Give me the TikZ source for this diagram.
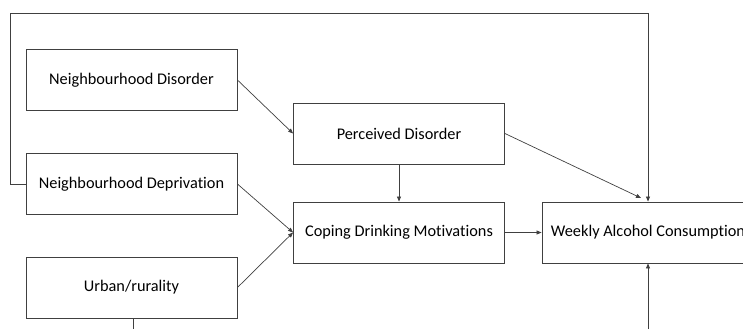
\documentclass[tikz,border=0pt]{standalone}
\usepackage{fontspec}
\setmainfont{Carlito}[Ligatures={NoCommon}]
\usetikzlibrary{arrows.meta}
\definecolor{linec}{HTML}{404040}
\tikzset{
  box/.style={draw=linec, line width=0.9pt, fill=white, minimum width=211pt, minimum height=61pt, inner sep=0pt, font=\fontsize{16.3}{19}\selectfont, text=black},
  conn/.style={draw=linec, line width=0.7pt, -{Triangle[length=5pt,width=4pt]}},
  plain/.style={draw=linec, line width=0.9pt}
}
\begin{document}
\begin{tikzpicture}[x=1pt,y=-1pt]
\useasboundingbox (0,0) rectangle (743,329);
\clip (0,0) rectangle (743,329);
\node[box] (nd) at (131.5,80) {Neighbourhood Disorder};
\node[box] (ndep) at (131.5,184) {Neighbourhood Deprivation};
\node[box] (ur) at (131.5,287.5) {Urban/rurality};
\node[box] (pd) at (399,133.5) {Perceived Disorder};
\node[box] (cd) at (399,232.5) {Coping Drinking Motivations};
\node[box, minimum width=212pt] (wa) at (648,232.5) {Weekly Alcohol Consumption};
\coordinate (tl) at (10,13);
\coordinate (bl) at (10,184);
\coordinate (tr) at (648,13);
\coordinate (ub) at (133,329);
\coordinate (wb) at (648,329);
\coordinate (pdin) at (641,198);
\draw[plain] (ndep.west) -- (bl) -- (tl) -- (tr);
\draw[conn] (tr) -- (wa.north);
\draw[plain] (ur.south -| ub) -- (ub);
\draw[conn] (wb) -- (wa.south);
\draw[conn] (nd.east) -- (pd.west);
\draw[conn] (ndep.east) -- (cd.west);
\draw[conn] (ur.east) -- (cd.west);
\draw[conn] (pd.south) -- (cd.north);
\draw[conn] (cd.east) -- (wa.west);
\draw[conn] (pd.east) -- (pdin);
\end{tikzpicture}
\end{document}
